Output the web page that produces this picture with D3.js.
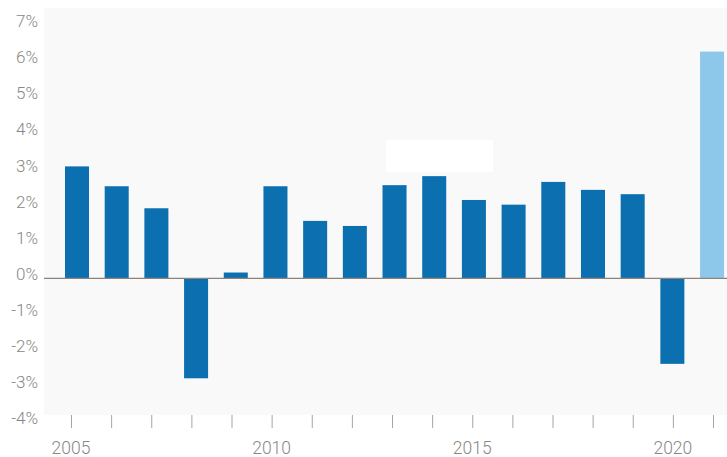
<!DOCTYPE html>
<html>
<head>
<meta charset="utf-8">
<script src="https://cdn.jsdelivr.net/npm/d3@7"></script>
<style>
  html, body { margin: 0; padding: 0; background: #ffffff; }
  svg { display: block; }
  text { font-family: "Roboto", "Liberation Sans", sans-serif; font-weight: 300; fill: #8a8784; }
</style>
</head>
<body>
<svg id="chart" width="727" height="457"></svg>
<script>
// ---- data ----
const years = [2005, 2006, 2007, 2008, 2009, 2010, 2011, 2012, 2013, 2014, 2015, 2016, 2017, 2018, 2019, 2020, 2021];
const growth = [3.1, 2.55, 1.94, -2.77, 0.16, 2.55, 1.59, 1.45, 2.58, 2.83, 2.17, 2.04, 2.67, 2.45, 2.33, -2.37, 6.28];
const projected = [false, false, false, false, false, false, false, false, false, false, false, false, false, false, false, false, true];
const yTicks = [7, 6, 5, 4, 3, 2, 1, 0, -1, -2, -3, -4];
const yearLabels = [2005, 2010, 2015, 2020];

// ---- layout ----
const panel = { x0: 44, x1: 727, y0: 8, y1: 415 };
const svg = d3.select("#chart");

const y = d3.scaleLinear().domain([-4, 7]).range([422.7, 25.6]);
const xBar = d3.scaleBand().domain(years).range([57.06, 732.0]).paddingInner(0.395).paddingOuter(0.2);
const xTick = d3.scalePoint().domain(years).range([71, 713]);

// panel background
svg.append("rect")
  .attr("x", panel.x0).attr("y", panel.y0)
  .attr("width", panel.x1 - panel.x0).attr("height", panel.y1 - panel.y0)
  .attr("fill", "#f9f9f9");

// white label backdrop
svg.append("rect")
  .attr("x", 386).attr("y", 140).attr("width", 107).attr("height", 32)
  .attr("fill", "#ffffff");

// bars
svg.append("g").selectAll("rect")
  .data(years.map((yr, i) => ({ yr, v: growth[i], p: projected[i] })))
  .join("rect")
  .attr("x", d => xBar(d.yr))
  .attr("width", xBar.bandwidth())
  .attr("y", d => y(Math.max(0, d.v)))
  .attr("height", d => Math.abs(y(d.v) - y(0)))
  .attr("fill", d => d.p ? "#8dc8eb" : "#0b6fb0");

// zero line
svg.append("line")
  .attr("x1", panel.x0).attr("x2", panel.x1)
  .attr("y1", y(0)).attr("y2", y(0))
  .attr("stroke", "#8d837b").attr("stroke-width", 1.3);

// y labels
svg.append("g").selectAll("text")
  .data(yTicks)
  .join("text")
  .attr("x", 38)
  .attr("y", d => y(d) + 1.5)
  .attr("text-anchor", "end")
  .attr("font-size", 17)
  .text(d => d + "%");

// x axis ticks
const xAxis = d3.axisBottom(xTick).tickSize(13).tickFormat("");
const gx = svg.append("g").attr("transform", `translate(0,${panel.y1})`).call(xAxis);
gx.select(".domain").remove();
gx.selectAll(".tick line").attr("stroke", "#a9a49f").attr("stroke-width", 1);

// x labels
svg.append("g").selectAll("text")
  .data(yearLabels)
  .join("text")
  .attr("x", d => xTick(d))
  .attr("y", 454)
  .attr("text-anchor", "middle")
  .attr("font-size", 17.5)
  .text(d => d);
</script>
</body>
</html>
